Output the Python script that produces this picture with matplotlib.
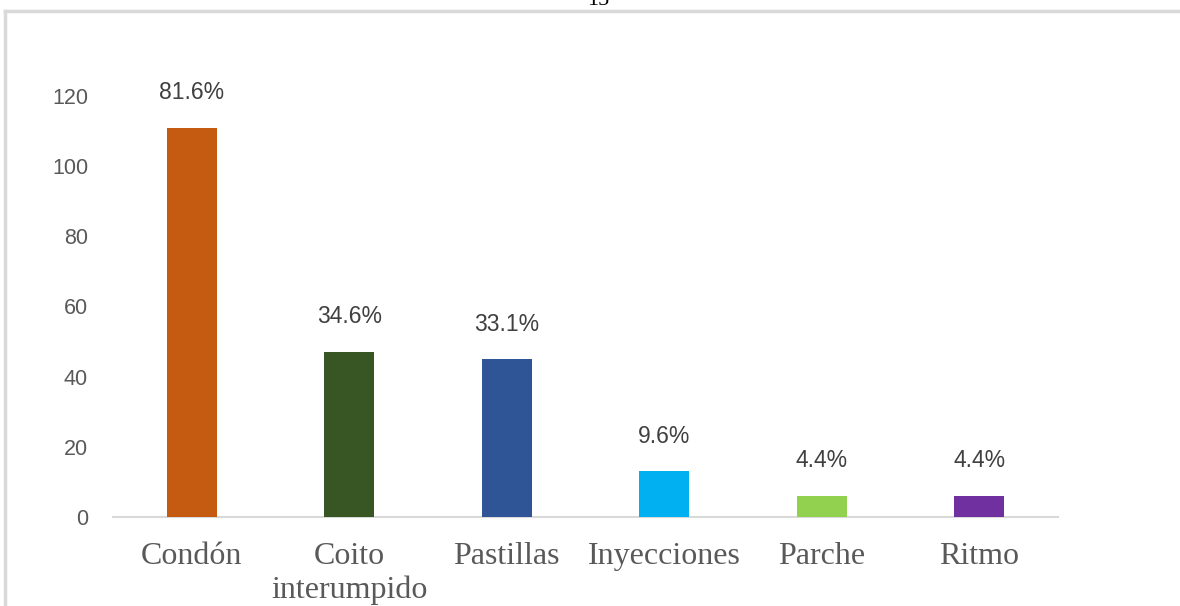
import matplotlib.pyplot as plt
from matplotlib.lines import Line2D

# datos
metodos = ["Condón", "Coito\ninterumpido", "Pastillas", "Inyecciones", "Parche", "Ritmo"]
casos = [111, 47, 45, 13, 6, 6]
etiquetas = ["81.6%", "34.6%", "33.1%", "9.6%", "4.4%", "4.4%"]
colores = ["#c55a11", "#375623", "#2f5597", "#00b0f0", "#92d050", "#7030a0"]
yticks = [0, 20, 40, 60, 80, 100, 120]

fig = plt.figure(figsize=(11.8, 6.06), dpi=100)
ax = fig.add_axes([113 / 1180, 1 - 517 / 606, 945 / 1180, 421 / 606])

x = list(range(len(metodos)))
ax.bar(x, casos, width=0.32, color=colores, zorder=3)

# etiquetas encima de las barras
for xi, v, t in zip(x, casos, etiquetas):
    ax.annotate(t, (xi, v), xytext=(0, 17), textcoords="offset points",
                ha="center", va="bottom", fontsize=16.5, color="#404040",
                family="Liberation Sans")

ax.set_xlim(-0.5, len(metodos) - 0.5)
ax.set_ylim(0, 120)
ax.set_yticks(yticks)
ax.set_yticklabels([str(v) for v in yticks], fontsize=15.5, color="#595959",
                   family="Liberation Sans")
ax.set_xticks(x)
ax.set_xticklabels(metodos, fontsize=23, color="#595959",
                   family="Liberation Serif", linespacing=1.2)
ax.tick_params(axis="y", length=0, pad=18)
ax.tick_params(axis="x", length=0, pad=18)
for s in ["top", "right", "left"]:
    ax.spines[s].set_visible(False)
ax.spines["bottom"].set_color("#d9d9d9")
ax.spines["bottom"].set_linewidth(1.5)

# marco del grafico (solo se ven borde izquierdo y superior)
fig.add_artist(Line2D([4.5 / 1180, 4.5 / 1180], [0, 1 - 11 / 606],
                      transform=fig.transFigure, color="#d9d9d9", lw=2.5))
fig.add_artist(Line2D([4.5 / 1180, 1], [1 - 11 / 606, 1 - 11 / 606],
                      transform=fig.transFigure, color="#d9d9d9", lw=2.5))

# numero de pagina cortado arriba
fig.text(598 / 1180, 1 - 5 / 606, "15", ha="center", va="baseline",
         fontsize=16, family="Liberation Serif", color="black")

fig.savefig("out.png", dpi=100)
